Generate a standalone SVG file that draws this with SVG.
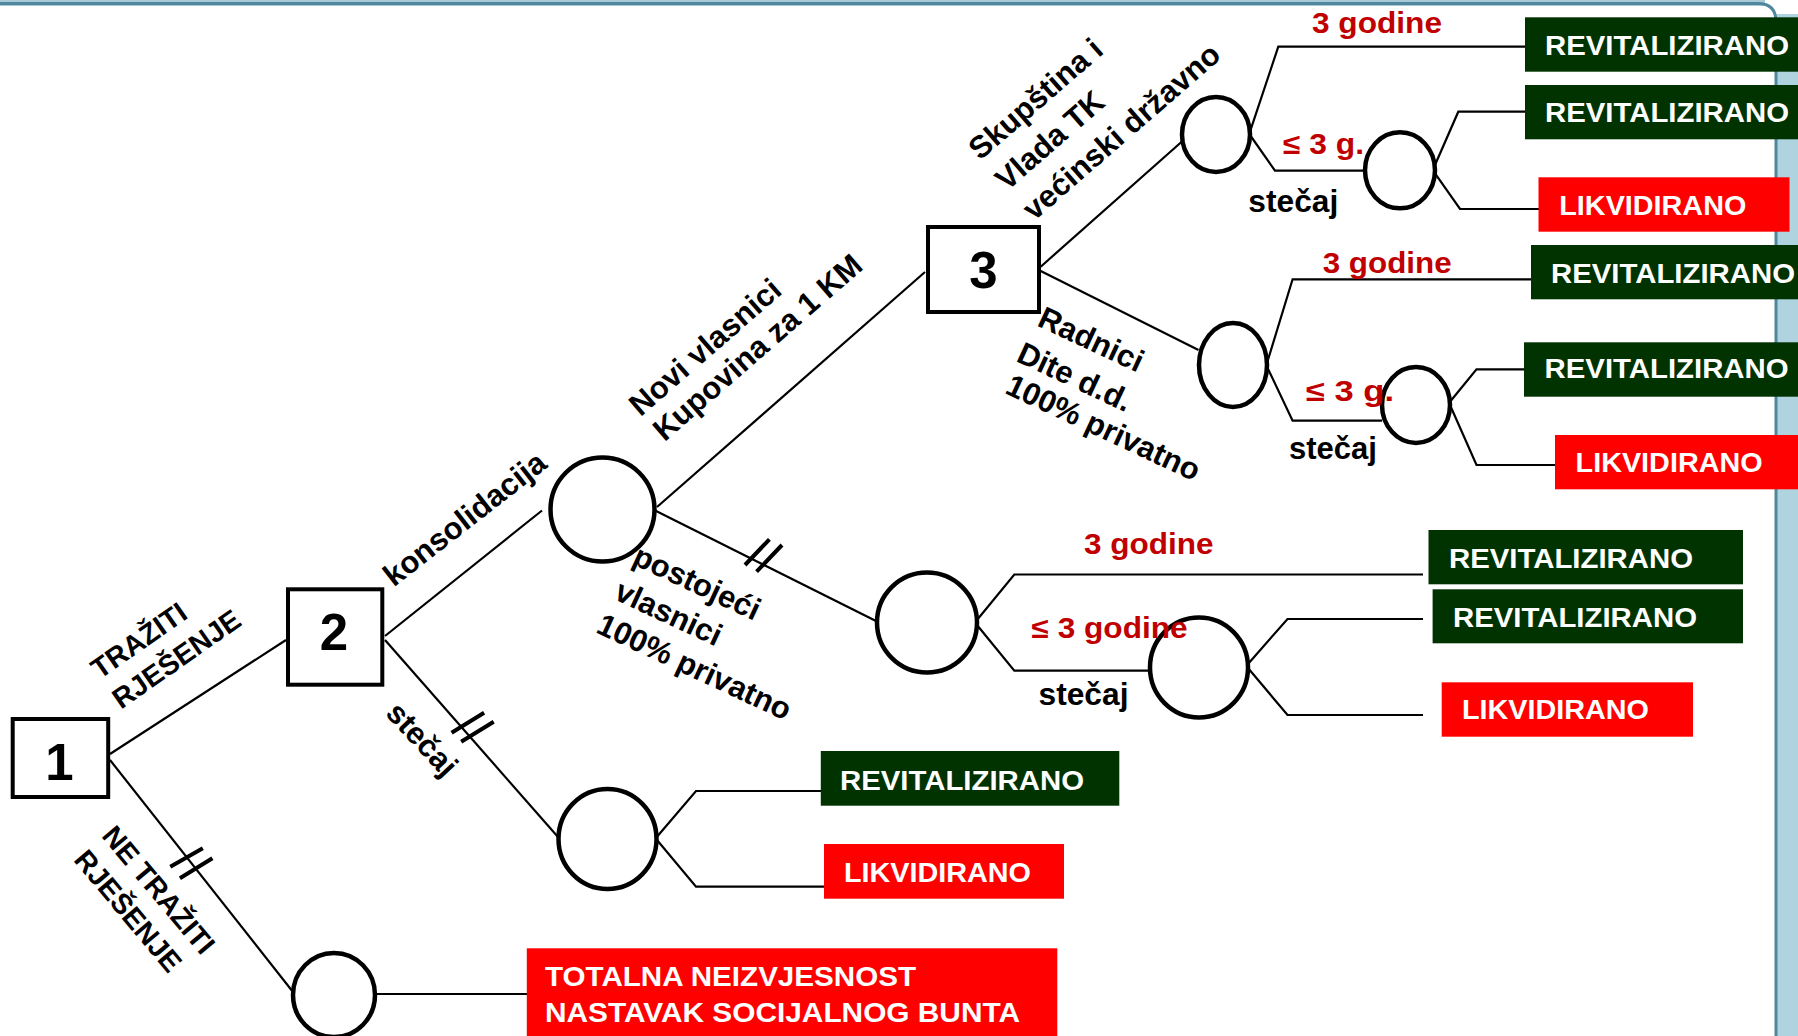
<svg xmlns="http://www.w3.org/2000/svg" width="1798" height="1036" viewBox="0 0 1798 1036">
<style>
.ln{stroke:#000;stroke-width:2.2;fill:none;stroke-linejoin:miter}
.tick{stroke:#000;stroke-width:4;fill:none}
.dec{fill:#fff;stroke:#000;stroke-width:4}
.ch{fill:#fff;stroke:#000;stroke-width:4.5}
.g{fill:#003300}
.r{fill:#ff0000}
.bt{font-family:"Liberation Sans",Arial,sans-serif;font-weight:bold;fill:#fff;font-size:27.5px}
.lb{font-family:"Liberation Sans",Arial,sans-serif;font-weight:bold;fill:#000;font-size:31px}
.up{font-size:28.5px}
.rl{font-family:"Liberation Sans",Arial,sans-serif;font-weight:bold;fill:#c00000;font-size:29px}
.num{font-family:"Liberation Sans",Arial,sans-serif;font-weight:bold;fill:#000;font-size:51px;text-anchor:middle}
.mid{text-anchor:middle}
</style>
<rect width="1798" height="1036" fill="#fff"/>
<g id="frame">
<rect x="1776" y="14" width="22" height="1022" fill="#afd4df"/>
<rect x="0" y="0" width="1765" height="6" fill="#a9c9d6"/>
<path d="M0,3.5 H1758 Q1776,3.5 1776,22 V1036" fill="none" stroke="#4f879d" stroke-width="3"/>
</g>
<g id="connectors">
<polyline class="ln" points="110,754 286,640"/>
<polyline class="ln" points="110,760 293,992"/>
<polyline class="ln" points="385,636 542,510.5"/>
<polyline class="ln" points="385,640 558,837"/>
<polyline class="ln" points="657,507 925,272"/>
<polyline class="ln" points="655.6,510.7 877.5,621.7"/>
<polyline class="ln" points="1040.7,266.7 1181.7,141.7"/>
<polyline class="ln" points="1040.7,271 1198.5,350"/>
<polyline class="ln" points="1250,131.7 1278.3,46.7 1525,46.7"/>
<polyline class="ln" points="1250,135 1275,170.7 1365,170.7"/>
<polyline class="ln" points="1435,165 1458.3,111.7 1525,111.7"/>
<polyline class="ln" points="1435,173.3 1460,209 1539,209"/>
<polyline class="ln" points="1267,363 1292.6,279.3 1531,279.3"/>
<polyline class="ln" points="1267,366.7 1292.6,420.7 1382,420.7"/>
<polyline class="ln" points="1450,401.7 1476.5,369.3 1524,369.3"/>
<polyline class="ln" points="1450,405 1476.5,465 1555,465"/>
<polyline class="ln" points="977,620 1014.3,574.5 1423,574.5"/>
<polyline class="ln" points="977,625 1014.3,670.7 1149,670.7"/>
<polyline class="ln" points="1248,664 1287.5,619 1423,619"/>
<polyline class="ln" points="1248,668 1287.5,715 1423,715"/>
<polyline class="ln" points="657,836.7 696,791 821,791"/>
<polyline class="ln" points="657,840 696,886.7 824,886.7"/>
<polyline class="ln" points="375,994 527,994"/>
<path class="tick" d="M451.6,732.7 L484.1,712.7 M461.2,741.7 L493.7,721.7"/>
<path class="tick" d="M170.3,866.7 L202.8,848.3 M179.9,878.3 L212.4,858.3"/>
<path class="tick" d="M745,565 L769.4,539.3 M756.6,571.7 L782,545"/>
</g>
<g id="node1"><rect class="dec" x="12.7" y="719" width="95.5" height="78"/><text class="num" x="59.5" y="779.5">1</text></g>
<g id="node2"><rect class="dec" x="288" y="589.3" width="94.3" height="95.4"/><text class="num" x="334" y="650">2</text></g>
<g id="node3"><rect class="dec" x="928" y="227" width="111" height="85"/><text class="num" x="983.5" y="287.5">3</text></g>
<g id="chanceA"><ellipse class="ch" cx="602.5" cy="509.5" rx="52" ry="52"/></g>
<g id="chanceB"><ellipse class="ch" cx="607.5" cy="839" rx="49" ry="50"/></g>
<g id="chanceC"><ellipse class="ch" cx="334" cy="995" rx="41" ry="42"/></g>
<g id="chanceD"><ellipse class="ch" cx="927" cy="622.5" rx="50" ry="50"/></g>
<g id="chanceE"><ellipse class="ch" cx="1199" cy="667.5" rx="49" ry="50"/></g>
<g id="chanceF"><ellipse class="ch" cx="1216" cy="134.5" rx="34" ry="37.5"/></g>
<g id="chanceG"><ellipse class="ch" cx="1400" cy="170.3" rx="35" ry="38"/></g>
<g id="chanceH"><ellipse class="ch" cx="1233" cy="365" rx="34" ry="42"/></g>
<g id="chanceI"><ellipse class="ch" cx="1416" cy="405" rx="34" ry="38"/></g>
<g id="out1"><rect class="g" x="1525" y="17.3" width="273" height="54.4"/><text class="bt" x="1545" y="55" textLength="244" lengthAdjust="spacingAndGlyphs">REVITALIZIRANO</text></g>
<g id="out2"><rect class="g" x="1525" y="85" width="273" height="54.3"/><text class="bt" x="1545" y="121.7" textLength="244" lengthAdjust="spacingAndGlyphs">REVITALIZIRANO</text></g>
<g id="out3"><rect class="r" x="1538.5" y="177.3" width="251" height="54.4"/><text class="bt" x="1559.3" y="215" textLength="187" lengthAdjust="spacingAndGlyphs">LIKVIDIRANO</text></g>
<g id="out4"><rect class="g" x="1531" y="245" width="267" height="54.3"/><text class="bt" x="1551" y="282.7" textLength="244" lengthAdjust="spacingAndGlyphs">REVITALIZIRANO</text></g>
<g id="out5"><rect class="g" x="1524" y="342.3" width="274" height="54.4"/><text class="bt" x="1544.6" y="378.3" textLength="244" lengthAdjust="spacingAndGlyphs">REVITALIZIRANO</text></g>
<g id="out6"><rect class="r" x="1555" y="435" width="243" height="54.3"/><text class="bt" x="1575.6" y="472.3" textLength="187" lengthAdjust="spacingAndGlyphs">LIKVIDIRANO</text></g>
<g id="out7"><rect class="g" x="1428.5" y="530" width="314.5" height="54.3"/><text class="bt" x="1449" y="568.3" textLength="244" lengthAdjust="spacingAndGlyphs">REVITALIZIRANO</text></g>
<g id="out8"><rect class="g" x="1432.6" y="589.3" width="310.4" height="54"/><text class="bt" x="1453" y="627.3" textLength="244" lengthAdjust="spacingAndGlyphs">REVITALIZIRANO</text></g>
<g id="out9"><rect class="r" x="1441.7" y="682.3" width="251.3" height="54.4"/><text class="bt" x="1462" y="719.3" textLength="187" lengthAdjust="spacingAndGlyphs">LIKVIDIRANO</text></g>
<g id="out10"><rect class="g" x="820.8" y="751" width="298.5" height="54.7"/><text class="bt" x="840" y="790" textLength="244" lengthAdjust="spacingAndGlyphs">REVITALIZIRANO</text></g>
<g id="out11"><rect class="r" x="824" y="844" width="240" height="54.7"/><text class="bt" x="844" y="881.7" textLength="187" lengthAdjust="spacingAndGlyphs">LIKVIDIRANO</text></g>
<g id="out12"><rect class="r" x="526.8" y="948.3" width="530.5" height="88"/><text class="bt" font-size="28.5" x="545" y="986" textLength="371" lengthAdjust="spacingAndGlyphs">TOTALNA NEIZVJESNOST</text><text class="bt" font-size="28.5" x="545" y="1021.7" textLength="475" lengthAdjust="spacingAndGlyphs">NASTAVAK SOCIJALNOG BUNTA</text></g>
<g id="labels">
<text class="lb up mid" transform="translate(144.5,648.5) rotate(-35)">TRAŽITI</text>
<text class="lb up mid" transform="translate(182,667) rotate(-35)">RJEŠENJE</text>
<text class="lb up mid" transform="translate(151.1,896.4) rotate(50)">NE TRAŽITI</text>
<text class="lb up mid" transform="translate(120.6,917.2) rotate(50)">RJEŠENJE</text>
<text class="lb mid" transform="translate(471.2,527) rotate(-38)">konsolidacija</text>
<text class="lb mid" transform="translate(414.5,746.5) rotate(47)">stečaj</text>
<text class="lb mid" transform="translate(712,355) rotate(-41)">Novi vlasnici</text>
<text class="lb mid" transform="translate(764.5,355.2) rotate(-41)">Kupovina za 1 KM</text>
<text class="lb mid" transform="translate(692.6,592.2) rotate(25)">postojeći</text>
<text class="lb mid" transform="translate(664.2,622.5) rotate(25)">vlasnici</text>
<text class="lb mid" transform="translate(690,676.4) rotate(25)">100% privatno</text>
<text class="lb mid" transform="translate(1042.5,106.8) rotate(-41)">Skupština i</text>
<text class="lb mid" transform="translate(1056.7,148.3) rotate(-41)">Vlada TK</text>
<text class="lb mid" transform="translate(1128.3,139.5) rotate(-41)">većinski državno</text>
<text class="lb mid" transform="translate(1086.7,349) rotate(25)">Radnici</text>
<text class="lb mid" transform="translate(1070.4,386.5) rotate(25)">Dite d.d.</text>
<text class="lb mid" transform="translate(1098.9,437.1) rotate(25)">100% privatno</text>
<text class="rl" x="1312" y="33.3" textLength="130" lengthAdjust="spacingAndGlyphs">3 godine</text>
<text class="rl" x="1283" y="153.5" font-size="24" textLength="81" lengthAdjust="spacingAndGlyphs">≤ 3 g.</text>
<text class="lb" x="1248.3" y="212.3" textLength="90" lengthAdjust="spacingAndGlyphs">stečaj</text>
<text class="rl" x="1322.7" y="272.7" textLength="129" lengthAdjust="spacingAndGlyphs">3 godine</text>
<text class="rl" x="1306" y="400.7" font-size="24" textLength="88" lengthAdjust="spacingAndGlyphs">≤ 3 g.</text>
<text class="lb" x="1289" y="459.3" textLength="88" lengthAdjust="spacingAndGlyphs">stečaj</text>
<text class="rl" x="1084" y="554" textLength="129.5" lengthAdjust="spacingAndGlyphs">3 godine</text>
<text class="rl" x="1031.6" y="637.5" font-size="27.5" textLength="156" lengthAdjust="spacingAndGlyphs">≤ 3 godine</text>
<text class="lb" x="1038.5" y="705" textLength="90" lengthAdjust="spacingAndGlyphs">stečaj</text>
</g>
</svg>
